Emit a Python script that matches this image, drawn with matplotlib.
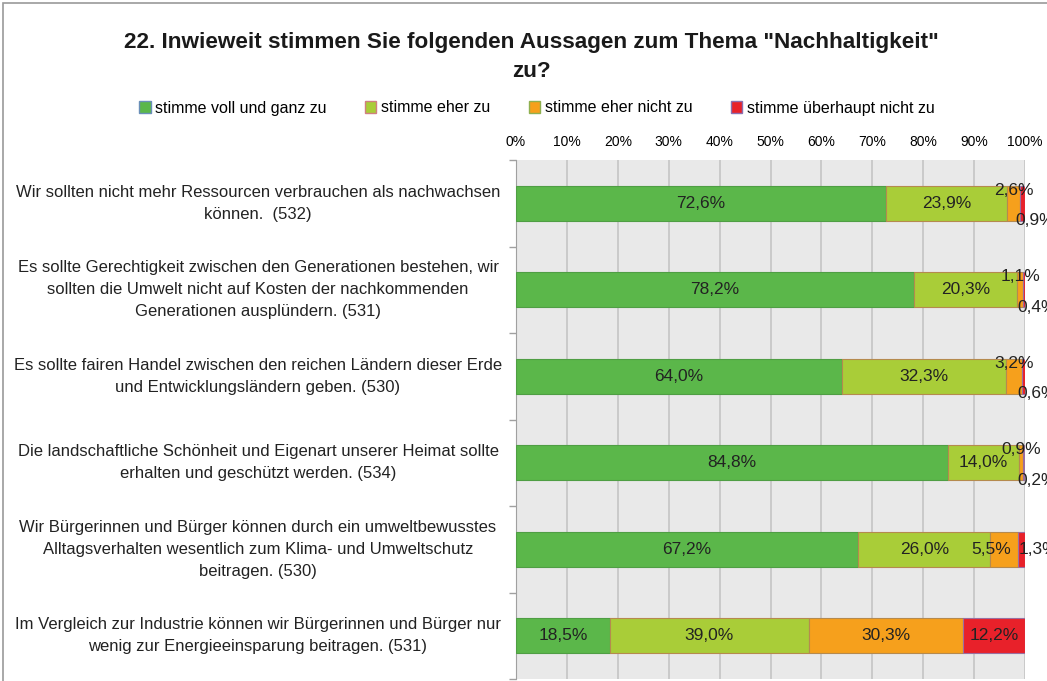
import matplotlib.pyplot as plt
from matplotlib.patches import Patch, Rectangle
from matplotlib.transforms import blended_transform_factory

plt.rcParams['font.family'] = ['Liberation Sans', 'DejaVu Sans']

title = '22. Inwieweit stimmen Sie folgenden Aussagen zum Thema "Nachhaltigkeit"\nzu?'

statements = [
    "Wir sollten nicht mehr Ressourcen verbrauchen als nachwachsen\nkönnen.  (532)",
    "Es sollte Gerechtigkeit zwischen den Generationen bestehen, wir\nsollten die Umwelt nicht auf Kosten der nachkommenden\nGenerationen ausplündern. (531)",
    "Es sollte fairen Handel zwischen den reichen Ländern dieser Erde\nund Entwicklungsländern geben. (530)",
    "Die landschaftliche Schönheit und Eigenart unserer Heimat sollte\nerhalten und geschützt werden. (534)",
    "Wir Bürgerinnen und Bürger können durch ein umweltbewusstes\nAlltagsverhalten wesentlich zum Klima- und Umweltschutz\nbeitragen. (530)",
    "Im Vergleich zur Industrie können wir Bürgerinnen und Bürger nur\nwenig zur Energieeinsparung beitragen. (531)",
]

series_names = ["stimme voll und ganz zu", "stimme eher zu",
                "stimme eher nicht zu", "stimme überhaupt nicht zu"]
voll = [72.6, 78.2, 64.0, 84.8, 67.2, 18.5]
eher = [23.9, 20.3, 32.3, 14.0, 26.0, 39.0]
eher_nicht = [2.6, 1.1, 3.2, 0.9, 5.5, 30.3]
gar_nicht = [0.9, 0.4, 0.6, 0.2, 1.3, 12.2]

colors = ["#5bb74a", "#a9cd38", "#f6a01c", "#e8212a"]
edges = ["#4f9e44", "#b58a4e", "#b58a4e", "#9a6fa0"]

fig = plt.figure(figsize=(10.47, 6.81), dpi=100)
fig.patch.set_facecolor('white')
ax = fig.add_axes([516 / 1047, 2 / 681, 509 / 1047, 519 / 681])
ax.set_facecolor('#e9e9e9')

n = len(statements)
ypos = list(range(n))
left = [0.0] * n
values = [voll, eher, eher_nicht, gar_nicht]
lab_kw = dict(ha='center', va='center', fontsize=12.5, color='#222222', zorder=4)
for k, vals in enumerate(values):
    ax.barh(ypos, vals, left=left, height=0.4, color=colors[k],
            edgecolor=edges[k], linewidth=0.8, zorder=3)
    for i, v in enumerate(vals):
        cx = left[i] + v / 2
        txt = f"{v:.1f}%".replace('.', ',')
        small = v < 4 and k >= 2 and i < 4
        if small and k == 2:
            ax.text(cx, i - 0.15, txt, **lab_kw)
        elif small and k == 3:
            ax.text(cx + 2.5, i + 0.2, txt, **lab_kw)
        elif i == 4 and k == 2:
            ax.text(cx - 2.5, i, txt, **lab_kw)
        elif i == 4 and k == 3:
            ax.text(cx + 3.2, i, txt, **lab_kw)
        else:
            ax.text(cx, i, txt, **lab_kw)
    left = [l + v for l, v in zip(left, vals)]

ax.set_xlim(0, 100)
ax.set_ylim(n - 0.5, -0.5)
ax.set_xticks(range(0, 101, 10))
ax.set_xticklabels([f"{t}%" for t in range(0, 101, 10)], fontsize=10)
ax.xaxis.tick_top()
ax.tick_params(axis='x', length=0, pad=8)
ax.grid(axis='x', color='#c4c4c4', linewidth=1.2, zorder=0)
ax.set_yticks([i - 0.5 for i in range(n + 1)])
ax.set_yticklabels([])
ax.tick_params(axis='y', length=5, color='#a0a0a0', width=1)
for s in ['top', 'right', 'bottom']:
    ax.spines[s].set_visible(False)
ax.spines['left'].set_color('#a0a0a0')

trans = blended_transform_factory(fig.transFigure, ax.transData)
for i, label in enumerate(statements):
    fig.text(258 / 1047, i, label, transform=trans, ha='center', va='center',
             multialignment='center', fontsize=12, color='#222222', linespacing=1.6)

fig.text(531 / 1047, 1 - 57 / 681, title, ha='center', va='center', fontsize=16.2,
         fontweight='bold', color='#1a1a1a', linespacing=1.45)

handles = [Patch(facecolor=c, edgecolor=e) for c, e in zip(colors, ["#6a8fb8", "#d08080", "#8fb050", "#8a6fb0"])]
fig.legend(handles, series_names, loc='center', bbox_to_anchor=(537 / 1047, 1 - 108 / 681),
           ncol=4, frameon=False, fontsize=11.5, handlelength=0.7, handleheight=0.7,
           handletextpad=0.3, columnspacing=2.4)

fig.add_artist(Rectangle((3 / 1047, -0.1), 1.2, 1 - 3 / 681 + 0.1, transform=fig.transFigure,
                         fill=False, edgecolor='#9a9a9a', linewidth=1.2))

fig.savefig('out.png', dpi=100)
